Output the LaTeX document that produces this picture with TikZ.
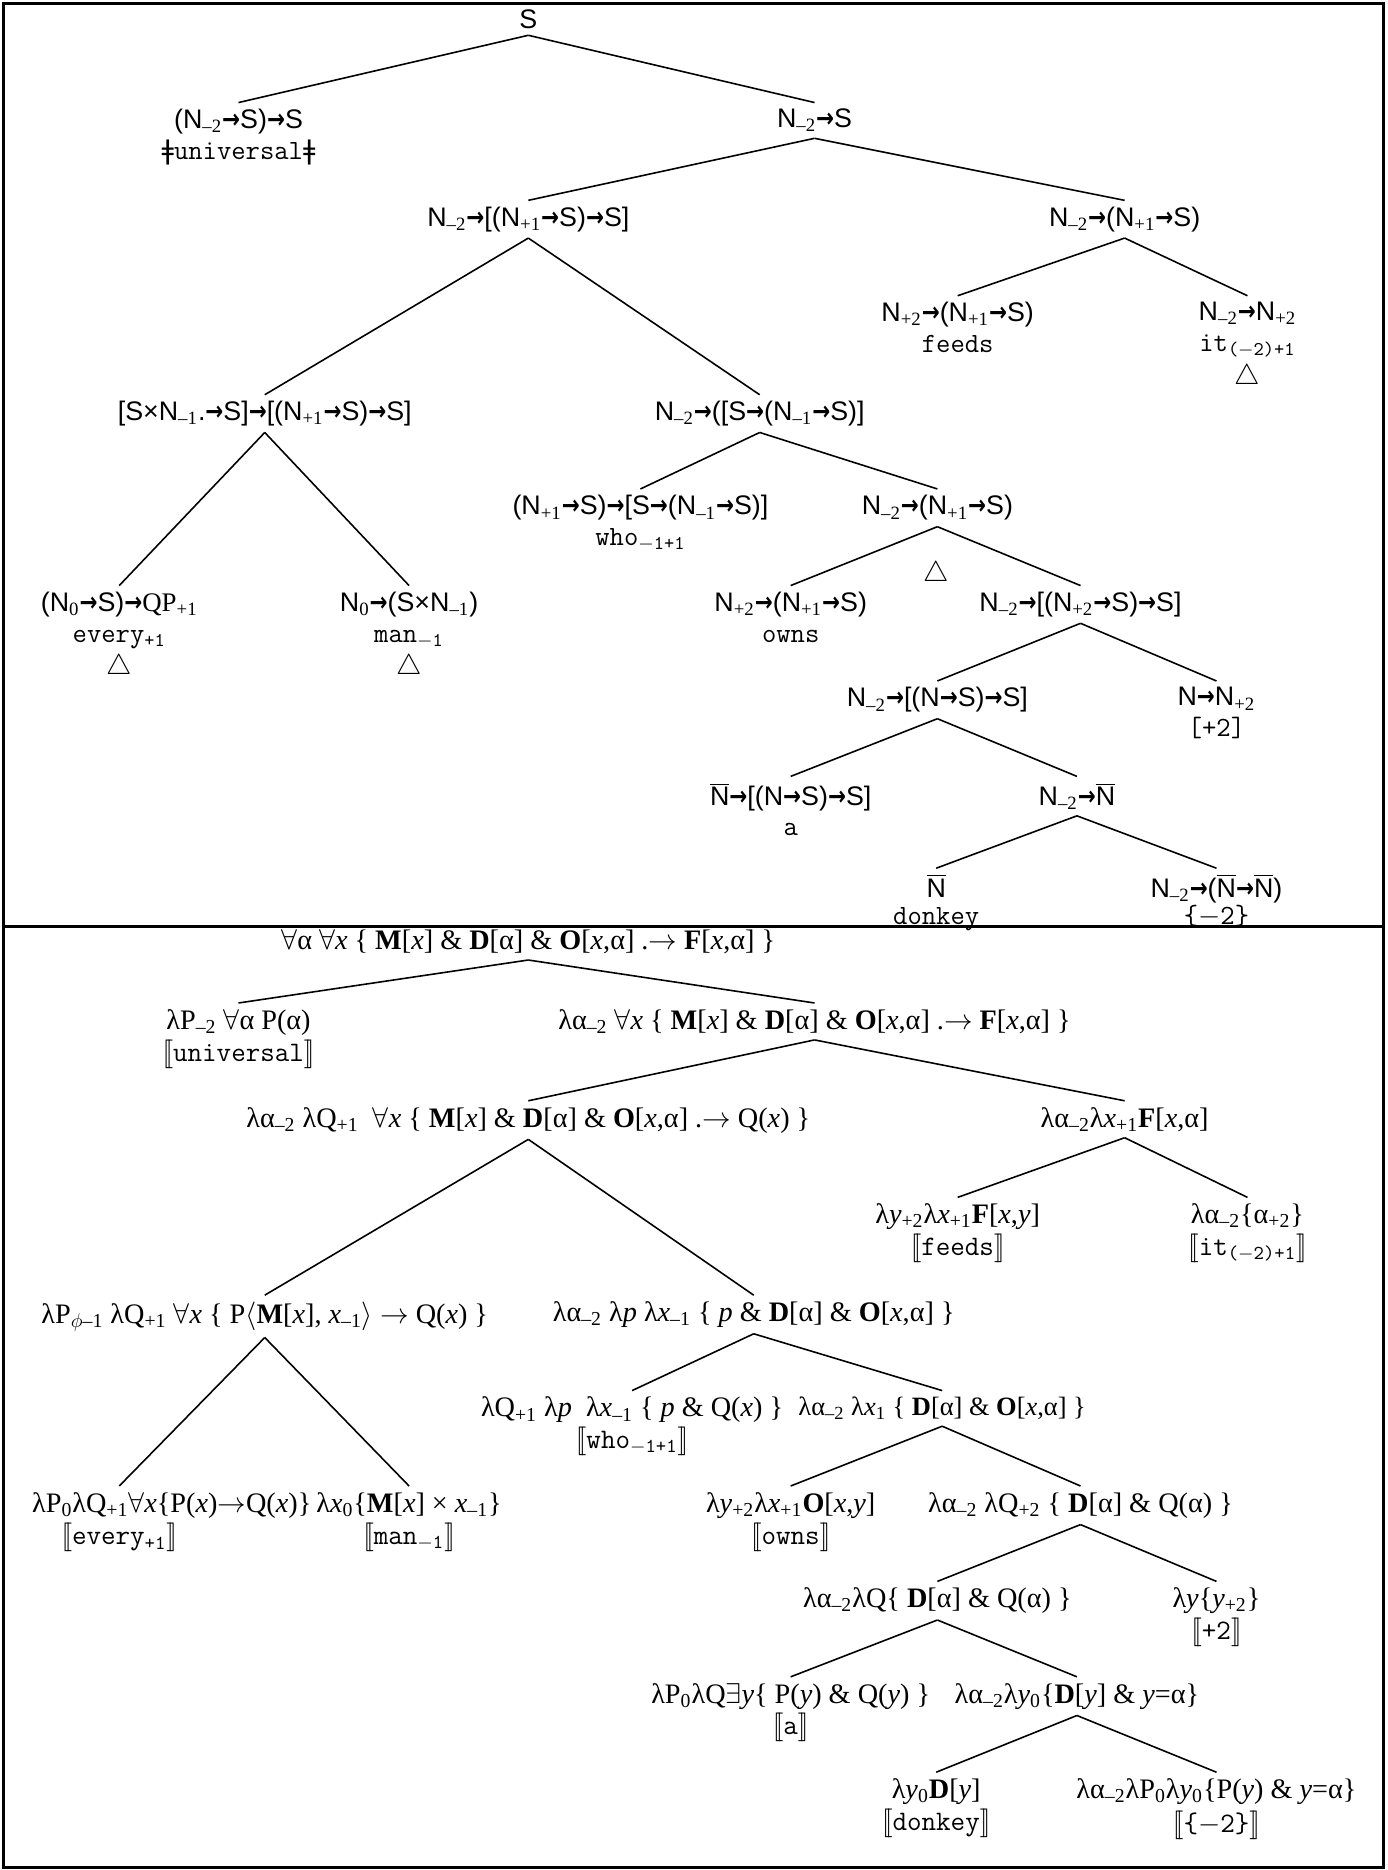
\documentclass[tikz,border=0pt]{standalone}
\usepackage{fontspec}
\setmainfont{Liberation Serif}
\newfontfamily\catfont{Liberation Sans}
\newfontfamily\dvfont{DejaVu Sans}
\newfontfamily\arfont[FakeStretch=0.8]{DejaVu Sans}

\newcommand\ar{{\arfont\bfseries →}}
\newcommand\sbs[1]{\textsubscript{\rmfamily #1}}
\newcommand\Nbar{$\overline{\mbox{N}}$}
\newcommand\wrd[1]{{\fontsize{14}{15.5}\selectfont\ttfamily #1}}
\newcommand\den[1]{$[\![$\texttt{#1}$]\!]$}
\newcommand\vx{\textit{x}}
\newcommand\vy{\textit{y}}
\newcommand\vp{\textit{p}}

\begin{document}
\begin{tikzpicture}[x=0.6pt,y=-0.6pt,
  every node/.style={inner xsep=1pt,inner ysep=3pt,align=center,anchor=north,yshift=8.4pt},
  cat/.style={font=\fontsize{13.5}{15.5}\selectfont\catfont},
  sem/.style={font=\fontsize{14.2}{16}\selectfont\rmfamily},
  branch/.style={line width=0.8pt}]
\useasboundingbox (0,0) rectangle (1163,1568);
\draw[line width=1.3pt] (3,3) rectangle (1160,1566);
\draw[line width=1.3pt] (3,777) -- (1160,777);

% categories
\node[cat] (t0) at (443,17) {S};
\node[cat] (t1) at (200,100) {(N\sbs{–2}\ar S)\ar S\\{\dvfont ǂ}\wrd{universal}{\dvfont ǂ}};
\node[cat] (t2) at (683,100) {N\sbs{–2}\ar S};
\node[cat] (t3) at (443,182) {N\sbs{–2}\ar[(N\sbs{+1}\ar S)\ar S]};
\node[cat] (t4) at (943,182) {N\sbs{–2}\ar(N\sbs{+1}\ar S)};
\node[cat] (t5) at (803,262) {N\sbs{+2}\ar(N\sbs{+1}\ar S)\\\wrd{feeds}};
\node[cat] (t6) at (1046,262) {N\sbs{–2}\ar N\sbs{+2}\\\wrd{it\textsubscript{($-$2)+1}}\\[1pt]$\triangle$};
\node[cat] (t7) at (222,345) {[S×N\sbs{–1}.\ar S]\ar[(N\sbs{+1}\ar S)\ar S]};
\node[cat] (t8) at (637,345) {N\sbs{–2}\ar([S\ar(N\sbs{–1}\ar S)]};
\node[cat] (t9) at (537,424) {(N\sbs{+1}\ar S)\ar[S\ar(N\sbs{–1}\ar S)]\\\wrd{who\textsubscript{$-$1+1}}};
\node[cat] (t10) at (786,424) {N\sbs{–2}\ar(N\sbs{+1}\ar S)};
\node[cat] (tri) at (785,480) {$\triangle$};
\node[cat] (t11) at (100,505) {(N\sbs{0}\ar S)\ar{\rmfamily QP}\sbs{+1}\\\wrd{every\textsubscript{+1}}\\[1pt]$\triangle$};
\node[cat] (t12) at (343,505) {N\sbs{0}\ar(S×N\sbs{–1})\\\wrd{man\textsubscript{$-$1}}\\[1pt]$\triangle$};
\node[cat] (t13) at (663,505) {N\sbs{+2}\ar(N\sbs{+1}\ar S)\\\wrd{owns}};
\node[cat] (t14) at (906,505) {N\sbs{–2}\ar[(N\sbs{+2}\ar S)\ar S]};
\node[cat] (t15) at (786,585) {N\sbs{–2}\ar[(N\ar S)\ar S]};
\node[cat] (t16) at (1020,585) {N\ar N\sbs{+2}\\\wrd{[+2]}};
\node[cat] (t17) at (663,665) {\Nbar\ar[(N\ar S)\ar S]\\\wrd{a}};
\node[cat] (t18) at (903,665) {N\sbs{–2}\ar\Nbar};
\node[cat,font=\fontsize{13.5}{14}\selectfont\catfont] (t19) at (785,742) {\Nbar\\\wrd{donkey}};
\node[cat,font=\fontsize{13.5}{14}\selectfont\catfont] (t20) at (1020,742) {N\sbs{–2}\ar(\Nbar\ar\Nbar)\\\wrd{\{}$-$\wrd{2\}}};
\path[branch]
  (t0.south) edge (t1.north)
  (t0.south) edge (t2.north)
  (t2.south) edge (t3.north)
  (t2.south) edge (t4.north)
  (t4.south) edge (t5.north)
  (t4.south) edge (t6.north)
  (t3.south) edge (t7.north)
  (t3.south) edge (t8.north)
  (t7.south) edge (t11.north)
  (t7.south) edge (t12.north)
  (t8.south) edge (t9.north)
  (t8.south) edge (t10.north)
  (t10.south) edge (t13.north)
  (t10.south) edge (t14.north)
  (t14.south) edge (t15.north)
  (t14.south) edge (t16.north)
  (t15.south) edge (t17.north)
  (t15.south) edge (t18.north)
  (t18.south) edge (t19.north)
  (t18.south) edge (t20.north)
;

% meanings
\node[sem] (b0) at (443,788) {$\forall$α $\forall$\vx\ \{ \textbf{M}[\vx] \& \textbf{D}[α] \& \textbf{O}[\vx,α] .$\to$ \textbf{F}[\vx,α] \}};
\node[sem] (b1) at (200,855) {λP\sbs{–2} $\forall$α P(α)\\\den{universal}};
\node[sem] (b2) at (683,855) {λα\sbs{–2} $\forall$\vx\ \{ \textbf{M}[\vx] \& \textbf{D}[α] \& \textbf{O}[\vx,α] .$\to$ \textbf{F}[\vx,α] \}};
\node[sem] (b3) at (443,937) {λα\sbs{–2} λQ\sbs{+1} \ $\forall$\vx\ \{ \textbf{M}[\vx] \& \textbf{D}[α] \& \textbf{O}[\vx,α] .$\to$ Q(\vx) \}};
\node[sem] (b4) at (943,937) {λα\sbs{–2}λ\vx\sbs{+1}\textbf{F}[\vx,α]};
\node[sem] (b5) at (803,1018) {λ\vy\sbs{+2}λ\vx\sbs{+1}\textbf{F}[\vx,\vy]\\\den{feeds}};
\node[sem] (b6) at (1046,1018) {λα\sbs{–2}\{α\sbs{+2}\}\\\den{it\textsubscript{($-$2)+1}}};
\node[sem] (b7) at (222,1100) {λP\sbs{$\phi$–1} λQ\sbs{+1} $\forall$\vx\ \{ P$\langle$\textbf{M}[\vx], \vx\sbs{–1}$\rangle$ $\to$ Q(\vx) \}};
\node[sem] (b8) at (632,1100) {λα\sbs{–2} λ\vp\ λ\vx\sbs{–1} \{ \vp\ \& \textbf{D}[α] \& \textbf{O}[\vx,α] \}};
\node[sem] (b9) at (530,1180) {λQ\sbs{+1} λ\vp\ \ λ\vx\sbs{–1} \{ \vp\ \& Q(\vx) \}\\\den{who\textsubscript{$-$1+1}}};
\node[sem,font=\fontsize{13.3}{16}\selectfont\rmfamily] (b10) at (790,1180) {λα\sbs{–2} λ\vx\sbs{1} \{ \textbf{D}[α] \& \textbf{O}[\vx,α] \}};
\node[sem] (b11) at (144,1260) {λP\sbs{0}λQ\sbs{+1}$\forall$\vx\{P(\vx)$\to$Q(\vx)\}};
\node[sem] (b11w) at (100,1286) {\den{every\textsubscript{+1}}};
\node[sem] (b12) at (343,1260) {λ\vx\sbs{0}\{\textbf{M}[\vx] × \vx\sbs{–1}\}\\\den{man\textsubscript{$-$1}}};
\node[sem] (b13) at (663,1260) {λ\vy\sbs{+2}λ\vx\sbs{+1}\textbf{O}[\vx,\vy]\\\den{owns}};
\node[sem] (b14) at (906,1260) {λα\sbs{–2} λQ\sbs{+2} \{ \textbf{D}[α] \& Q(α) \}};
\node[sem] (b15) at (786,1340) {λα\sbs{–2}λQ\{ \textbf{D}[α] \& Q(α) \}};
\node[sem] (b16) at (1020,1340) {λ\vy\{\vy\sbs{+2}\}\\\den{+2}};
\node[sem] (b17) at (663,1420) {λP\sbs{0}λQ$\exists$\vy\{ P(\vy) \& Q(\vy) \}\\\den{a}};
\node[sem] (b18) at (903,1420) {λα\sbs{–2}λ\vy\sbs{0}\{\textbf{D}[\vy] \& \vy=α\}};
\node[sem] (b19) at (785,1500) {λ\vy\sbs{0}\textbf{D}[\vy]\\\den{donkey}};
\node[sem] (b20) at (1020,1500) {λα\sbs{–2}λP\sbs{0}λ\vy\sbs{0}\{P(\vy) \& \vy=α\}\\[1pt]\den{\{$-$2\}}};
\path[branch]
  (b0.south) edge (b1.north)
  (b0.south) edge (b2.north)
  (b2.south) edge (b3.north)
  (b2.south) edge (b4.north)
  (b4.south) edge (b5.north)
  (b4.south) edge (b6.north)
  (b3.south) edge (b7.north)
  (b3.south) edge (b8.north)
  (b7.south) edge (b11w.north |- b11.north)
  (b7.south) edge (b12.north)
  (b8.south) edge (b9.north)
  (b8.south) edge (b10.north)
  (b10.south) edge (b13.north)
  (b10.south) edge (b14.north)
  (b14.south) edge (b15.north)
  (b14.south) edge (b16.north)
  (b15.south) edge (b17.north)
  (b15.south) edge (b18.north)
  (b18.south) edge (b19.north)
  (b18.south) edge (b20.north)
;
\end{tikzpicture}
\end{document}
